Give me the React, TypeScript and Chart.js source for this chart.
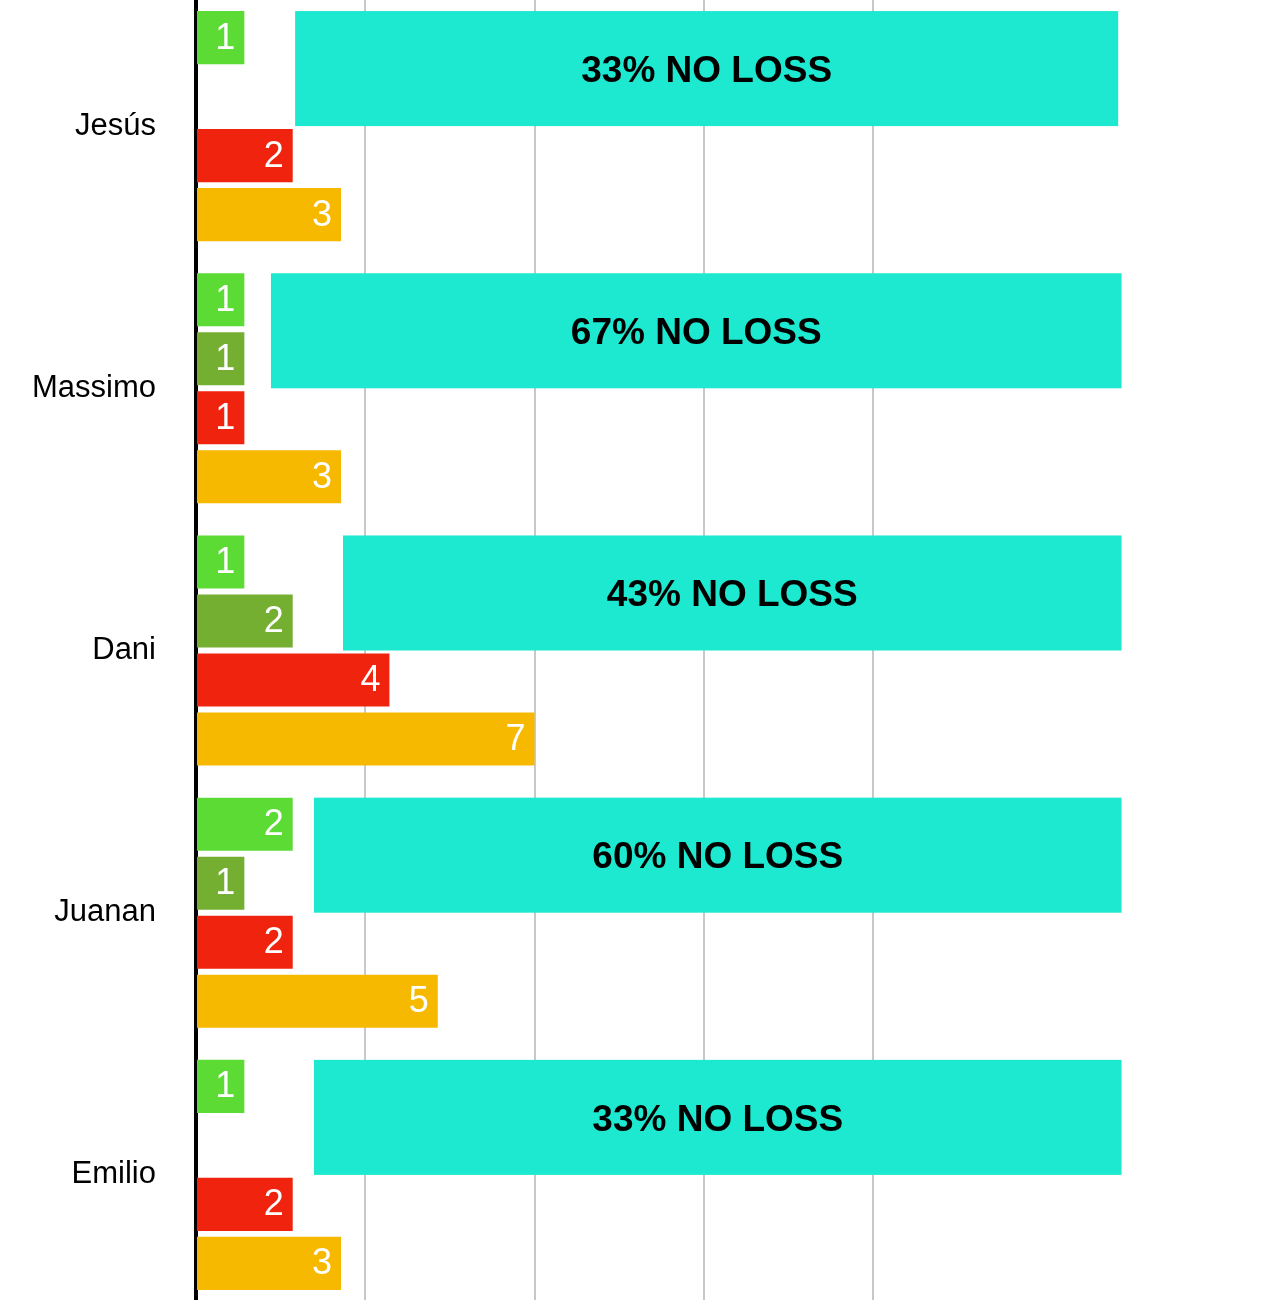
import { useEffect, useRef } from 'react'
import { Chart, registerables } from 'chart.js'
import type { Plugin } from 'chart.js'

Chart.register(...registerables)

const FONT = "'Liberation Sans', Arial, Helvetica, sans-serif"

const players = ['Jesús', 'Massimo', 'Dani', 'Juanan', 'Emilio']
const wins = [1, 1, 1, 2, 1]
const draws = [0, 1, 2, 1, 0]
const losses = [2, 1, 4, 2, 2]
const played = [3, 3, 7, 5, 3]
const noLossLabels = ['33% NO LOSS', '67% NO LOSS', '43% NO LOSS', '60% NO LOSS', '33% NO LOSS']
// the cyan boxes run from/to these x values
const boxStart = [2.05, 1.55, 3.04, 2.44, 2.44]
const boxEnd = [19.07, 19.14, 19.14, 19.14, 19.14]
const xTicks = [0, 3.5, 7, 10.5, 14]

// cyan "no loss" box over the top half of each band, placed with the scales
const noLossBoxes: Plugin<'bar'> = {
  id: 'noLossBoxes',
  beforeDatasetsDraw(chart) {
    const { ctx, scales } = chart
    const first = chart.getDatasetMeta(0)
    ctx.save()
    players.forEach((_, j) => {
      const bar = first.data[j].getProps(['y', 'height'], true) as { y: number; height: number }
      const top = bar.y - bar.height / 2
      const bottom = scales.y.getPixelForValue(j)
      const left = scales.x.getPixelForValue(boxStart[j])
      const right = scales.x.getPixelForValue(boxEnd[j])
      ctx.fillStyle = '#1de8d0'
      ctx.fillRect(left, top, right - left, bottom - top)
      ctx.font = `bold 37px ${FONT}`
      ctx.fillStyle = '#000'
      ctx.textAlign = 'center'
      ctx.textBaseline = 'middle'
      ctx.fillText(noLossLabels[j], (left + right) / 2, (top + bottom) / 2 + 3)
    })
    ctx.restore()
  },
}

// counts written inside the end of each bar
const barLabels: Plugin<'bar'> = {
  id: 'barLabels',
  afterDatasetsDraw(chart) {
    const { ctx } = chart
    ctx.save()
    ctx.font = `36px ${FONT}`
    ctx.fillStyle = '#fff'
    ctx.textAlign = 'right'
    ctx.textBaseline = 'middle'
    chart.data.datasets.forEach((ds, i) => {
      const meta = chart.getDatasetMeta(i)
      if (meta.hidden) return
      meta.data.forEach((bar, j) => {
        const v = ds.data[j] as number
        if (!v) return
        const { x, y } = bar.getProps(['x', 'y'], true) as { x: number; y: number }
        ctx.fillText(String(v), x - 9, y + 1)
      })
    })
    ctx.restore()
  },
}

export default function App() {
  const canvasRef = useRef<HTMLCanvasElement>(null)
  const chartRef = useRef<Chart | null>(null)

  useEffect(() => {
    document.body.style.margin = '0'
    if (!canvasRef.current) return
    chartRef.current?.destroy()

    chartRef.current = new Chart(canvasRef.current, {
      type: 'bar',
      data: {
        labels: players,
        datasets: [
          { label: 'Wins', data: wins, backgroundColor: '#5ddb35' },
          { label: 'Draws', data: draws, backgroundColor: '#74af31' },
          { label: 'Losses', data: losses, backgroundColor: '#f0230f' },
          { label: 'Played', data: played, backgroundColor: '#f7b900' },
        ],
      },
      options: {
        indexAxis: 'y',
        responsive: true,
        maintainAspectRatio: false,
        animation: false,
        layout: { padding: { left: 0, right: 399, top: 0, bottom: 0 } },
        datasets: { bar: { categoryPercentage: 0.9, barPercentage: 0.9 } },
        plugins: {
          legend: { display: false },
          tooltip: { enabled: false },
        },
        scales: {
          x: {
            min: 0,
            max: 14,
            afterBuildTicks: s => { s.ticks = xTicks.map(value => ({ value })) },
            ticks: { display: false },
            grid: { color: '#c8c8c8', lineWidth: 2, drawTicks: false },
            border: { display: false },
          },
          y: {
            // fixed width, and no extra room above/below for the tick padding
            afterFit: s => {
              s.width = 196
              s.paddingTop = 0
              s.paddingBottom = 0
            },
            ticks: { color: '#000', font: { size: 31, family: FONT }, padding: 40 },
            grid: { display: false, drawTicks: false },
            border: { color: '#000', width: 4 },
          },
        },
      },
      plugins: [noLossBoxes, barLabels],
    })

    return () => chartRef.current?.destroy()
  }, [])

  return (
    <div style={{ position: 'relative', width: 1272, height: 1300, overflow: 'hidden', background: '#fff' }}>
      <div style={{ position: 'absolute', left: 0, top: -5, width: 1272, height: 1311 }}>
        <canvas ref={canvasRef} />
      </div>
    </div>
  )
}
